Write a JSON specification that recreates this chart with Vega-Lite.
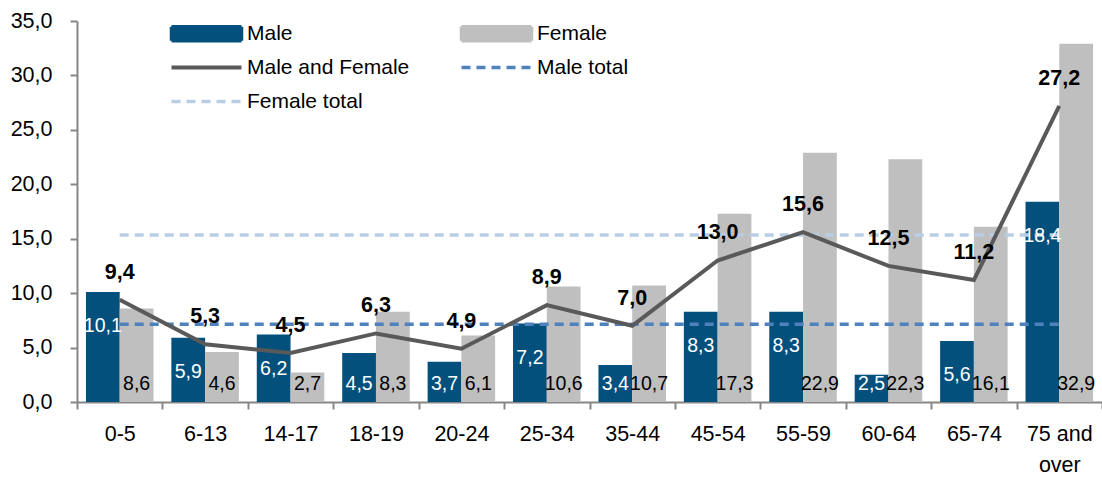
{
  "$schema": "https://vega.github.io/schema/vega-lite/v6.json",
  "width": 1025,
  "height": 381,
  "autosize": {"type": "none"},
  "padding": {"left": 77, "top": 21, "right": 0, "bottom": 75},
  "config": {
    "locale": {"number": {"decimal": ",", "thousands": ".", "grouping": [3], "currency": ["", ""]}},
    "view": {"stroke": null},
    "font": "Liberation Sans"
  },
  "datasets": {
    "bars": [
      {"age": "0-5", "series": "Male", "value": 10.1},
      {"age": "0-5", "series": "Female", "value": 8.6},
      {"age": "6-13", "series": "Male", "value": 5.9},
      {"age": "6-13", "series": "Female", "value": 4.6},
      {"age": "14-17", "series": "Male", "value": 6.2},
      {"age": "14-17", "series": "Female", "value": 2.7},
      {"age": "18-19", "series": "Male", "value": 4.5},
      {"age": "18-19", "series": "Female", "value": 8.3},
      {"age": "20-24", "series": "Male", "value": 3.7},
      {"age": "20-24", "series": "Female", "value": 6.1},
      {"age": "25-34", "series": "Male", "value": 7.2},
      {"age": "25-34", "series": "Female", "value": 10.6},
      {"age": "35-44", "series": "Male", "value": 3.4},
      {"age": "35-44", "series": "Female", "value": 10.7},
      {"age": "45-54", "series": "Male", "value": 8.3},
      {"age": "45-54", "series": "Female", "value": 17.3},
      {"age": "55-59", "series": "Male", "value": 8.3},
      {"age": "55-59", "series": "Female", "value": 22.9},
      {"age": "60-64", "series": "Male", "value": 2.5},
      {"age": "60-64", "series": "Female", "value": 22.3},
      {"age": "65-74", "series": "Male", "value": 5.6},
      {"age": "65-74", "series": "Female", "value": 16.1},
      {"age": "75 and over", "series": "Male", "value": 18.4},
      {"age": "75 and over", "series": "Female", "value": 32.9}
    ],
    "both": [
      {"age": "0-5", "series": "Male and Female", "value": 9.4},
      {"age": "6-13", "series": "Male and Female", "value": 5.3},
      {"age": "14-17", "series": "Male and Female", "value": 4.5},
      {"age": "18-19", "series": "Male and Female", "value": 6.3},
      {"age": "20-24", "series": "Male and Female", "value": 4.9},
      {"age": "25-34", "series": "Male and Female", "value": 8.9},
      {"age": "35-44", "series": "Male and Female", "value": 7.0},
      {"age": "45-54", "series": "Male and Female", "value": 13.0},
      {"age": "55-59", "series": "Male and Female", "value": 15.6},
      {"age": "60-64", "series": "Male and Female", "value": 12.5},
      {"age": "65-74", "series": "Male and Female", "value": 11.2},
      {"age": "75 and over", "series": "Male and Female", "value": 27.2}
    ],
    "totals": [
      {"age": "0-5", "series": "Male total", "value": 7.15},
      {"age": "75 and over", "series": "Male total", "value": 7.15},
      {"age": "0-5", "series": "Female total", "value": 15.35},
      {"age": "75 and over", "series": "Female total", "value": 15.35}
    ]
  },
  "encoding": {
    "x": {
      "field": "age",
      "type": "nominal",
      "sort": ["0-5", "6-13", "14-17", "18-19", "20-24", "25-34", "35-44", "45-54", "55-59", "60-64", "65-74", "75 and over"],
      "scale": {"paddingInner": 0, "paddingOuter": 0},
      "axis": {
        "title": null,
        "labelAngle": 0,
        "tickBand": "extent",
        "domainColor": "#868686",
        "domainWidth": 2,
        "tickColor": "#868686",
        "tickWidth": 2,
        "tickSize": 7,
        "labelFontSize": 21.5,
        "labelColor": "#000000",
        "labelPadding": 14,
        "labelLineHeight": 31,
        "labelExpr": "datum.value == '75 and over' ? ['75 and', 'over'] : datum.value"
      }
    },
    "y": {
      "field": "value",
      "type": "quantitative",
      "scale": {"domain": [0, 35], "nice": false, "zero": true},
      "axis": {
        "title": null,
        "values": [0, 5, 10, 15, 20, 25, 30, 35],
        "format": ".1f",
        "grid": false,
        "domainColor": "#868686",
        "domainWidth": 2,
        "tickColor": "#868686",
        "tickWidth": 2,
        "tickSize": 7,
        "labelFontSize": 21.5,
        "labelColor": "#000000",
        "labelPadding": 18
      }
    }
  },
  "layer": [
    {
      "data": {"name": "bars"},
      "mark": {"type": "bar"},
      "encoding": {
        "xOffset": {"field": "series", "type": "nominal", "sort": ["Male", "Female"], "scale": {"paddingInner": 0, "paddingOuter": 0.265}},
        "color": {
          "field": "series",
          "type": "nominal",
          "scale": {
            "domain": ["Male", "Male and Female", "Female total", "Female", "Male total"],
            "range": ["#03507D", "#595959", "#B9CDE5", "#BFBFBF", "#4F81BD"]
          },
          "legend": {
            "orient": "none",
            "legendX": 119,
            "legendY": 2,
            "columns": 2,
            "gridAlign": "all",
            "title": null,
            "symbolSize": 196,
            "labelFontSize": 21,
            "labelColor": "#000000",
            "labelOffset": 30,
            "columnPadding": 44,
            "rowPadding": 8,
            "padding": 0,
            "labelLimit": 300,
            "encode": {
              "symbols": {
                "update": {
                  "shape": {"signal": "(datum.value == 'Male' || datum.value == 'Female') ? 'M-5,-1H5V1H-5Z' : 'M-5,0H5'"},
                  "fill": {"signal": "(datum.value == 'Male' || datum.value == 'Female') ? scale('color', datum.value) : 'transparent'"},
                  "stroke": {"signal": "(datum.value == 'Male' || datum.value == 'Female') ? 'transparent' : scale('color', datum.value)"},
                  "strokeWidth": {"signal": "datum.value == 'Male and Female' ? 4 : 3.5"},
                  "strokeDash": {"signal": "indexof(datum.value, 'total') >= 0 ? [9, 6] : [1, 0]"},
                  "opacity": {"value": 1},
                  "fillOpacity": {"value": 1},
                  "strokeOpacity": {"value": 1}
                }
              }
            }
          }
        }
      }
    },
    {
      "data": {"name": "totals"},
      "mark": {"type": "line", "strokeWidth": 3.5, "strokeDash": [9, 6]},
      "encoding": {
        "color": {"field": "series", "type": "nominal"},
        "detail": {"field": "series"}
      }
    },
    {
      "data": {"name": "both"},
      "mark": {"type": "line", "strokeWidth": 4},
      "encoding": {
        "color": {"field": "series", "type": "nominal"}
      }
    },
    {
      "data": {"name": "bars"},
      "transform": [{"filter": "datum.series == 'Male' && datum.value >= 4.8"}],
      "mark": {"type": "text", "fontSize": 19.5, "fill": "#FFFFFF", "baseline": "middle", "dy": 34},
      "encoding": {
        "xOffset": {"field": "series", "type": "nominal", "sort": ["Male", "Female"]},
        "text": {"field": "value", "type": "quantitative", "format": ".1f"}
      }
    },
    {
      "data": {"name": "bars"},
      "transform": [{"filter": "datum.series == 'Female' || datum.value < 4.8"}],
      "mark": {"type": "text", "fontSize": 19.5, "baseline": "middle"},
      "encoding": {
        "xOffset": {"field": "series", "type": "nominal", "sort": ["Male", "Female"]},
        "y": {"datum": 1.65, "type": "quantitative"},
        "fill": {"condition": {"test": "datum.series == 'Male'", "value": "#FFFFFF"}, "value": "#000000"},
        "text": {"field": "value", "type": "quantitative", "format": ".1f"}
      }
    },
    {
      "data": {"name": "both"},
      "mark": {"type": "text", "fontSize": 21.5, "fontWeight": "bold", "fill": "#000000", "baseline": "middle", "dy": -27},
      "encoding": {
        "text": {"field": "value", "type": "quantitative", "format": ".1f"}
      }
    }
  ]
}
